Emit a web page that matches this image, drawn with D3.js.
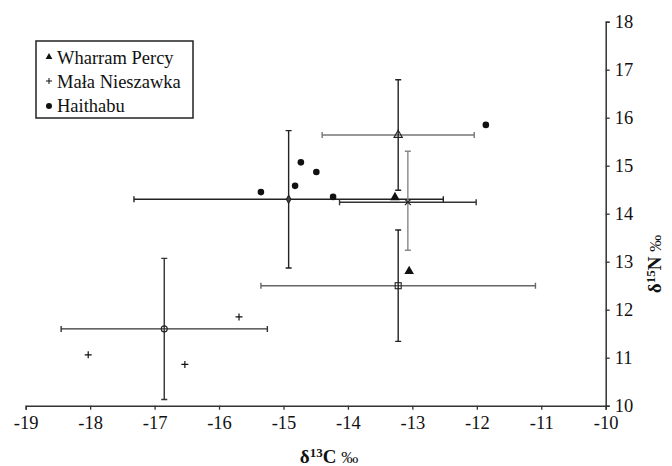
<!DOCTYPE html>
<html>
<head>
<meta charset="utf-8">
<script src="https://cdn.jsdelivr.net/npm/d3@7"></script>
<style>
	body { margin: 0; background: #fff; }
	svg { display: block; }
	svg text { font-family: "Liberation Serif", "Times New Roman", "DejaVu Serif", serif; }
</style>
</head>
<body>
<svg id="main-plot"></svg>
<script>
// sample values
var whX = [-13.27, -13.05],
	whY = [14.34, 12.80],
	mnX = [-18.03, -16.53, -15.69],
	mnY = [11.06, 10.86, 11.85],
	hbX = [-15.35, -14.82, -14.73, -14.49, -14.23, -11.86],
	hbY = [14.45, 14.58, 15.07, 14.87, 14.35, 15.85];

// group means with +/- 1 sd
var meanNames = ['Haithabu', 'Wharram Percy', 'Mała Nieszawka', 'group 4', 'group 5'],
	meanX = [-14.92, -13.22, -16.85, -13.22, -13.07],
	meanY = [14.30, 15.64, 11.60, 12.50, 14.27],
	sdX = [2.40, 1.18, 1.60, 2.13, 1.06],
	sdY = [1.43, 1.15, 1.47, 1.16, 1.03];

var legendNames = ['Wharram Percy', 'Mała Nieszawka', 'Haithabu'];
var xTicks = [-19, -18, -17, -16, -15, -14, -13, -12, -11, -10],
	yTicks = [10, 11, 12, 13, 14, 15, 16, 17, 18];

window.onload = function init() {
	'use strict';

	var width = 672,
		height = 466,
		serif = 'Liberation Serif, Times New Roman, DejaVu Serif, serif',
		svg = d3.select('svg#main-plot').attr('width', width).attr('height', height);

	var x = d3.scaleLinear().domain([-19, -10]).range([25.7, 605.7]),
		y = d3.scaleLinear().domain([10, 18]).range([405.7, 21.7]);

	var tri = d3.symbol().type(d3.symbolTriangle);

	// axes, plain hyphen minus like the original
	var fmt = function(d) { return String(d); };
	var xAxis = svg.append('g').attr('transform', 'translate(0,' + y(10) + ')')
		.call(d3.axisBottom(x).tickValues(xTicks).tickFormat(fmt).tickSizeOuter(0).tickSize(4).tickPadding(5));
	var yAxis = svg.append('g').attr('transform', 'translate(' + x(-10) + ',0)')
		.call(d3.axisRight(y).tickValues(yTicks).tickFormat(fmt).tickSizeOuter(0).tickSize(4).tickPadding(5));
	[xAxis, yAxis].forEach(function(a) {
		a.attr('font-family', serif).attr('font-size', 18.5);
		a.select('.domain').attr('stroke', '#333').attr('stroke-width', 1.5);
		a.selectAll('.tick line').attr('stroke', '#333').attr('stroke-width', 1.3);
		a.selectAll('.tick text').attr('fill', '#111');
	});
	xAxis.selectAll('.tick text').attr('dy', '0.75em');

	// axis titles
	var xt = svg.append('text').attr('x', 329).attr('y', 463).attr('text-anchor', 'middle')
		.attr('font-family', serif).attr('font-size', 19).attr('font-weight', 'bold').attr('fill', '#111');
	xt.append('tspan').text('δ');
	xt.append('tspan').attr('font-size', 13).attr('dy', -6).text('13');
	xt.append('tspan').attr('dy', 6).text('C ');
	xt.append('tspan').attr('font-weight', 'normal').attr('font-size', 17).text('‰');

	var yt = svg.append('text').attr('transform', 'translate(661,264) rotate(-90)').attr('text-anchor', 'middle')
		.attr('font-family', serif).attr('font-size', 19).attr('font-weight', 'bold').attr('fill', '#111');
	yt.append('tspan').text('δ');
	yt.append('tspan').attr('font-size', 13).attr('dy', -6).text('15');
	yt.append('tspan').attr('dy', 6).text('N ');
	yt.append('tspan').attr('font-weight', 'normal').attr('font-size', 17).text('‰');

	// error bars
	var hColors = ['#222', '#777', '#333', '#666', '#333'],
		vColors = ['#222', '#222', '#333', '#222', '#888'],
		yNudge = [0, 0, 0, 0, 1.5],
		cap = 3;
	var bars = svg.append('g').attr('fill', 'none').attr('stroke-width', 1.4);
	meanX.forEach(function(mx, i) {
		var my = y(meanY[i]) + yNudge[i],
			x0 = x(mx - sdX[i]), x1 = x(mx + sdX[i]),
			y0 = y(meanY[i] - sdY[i]), y1 = y(meanY[i] + sdY[i]),
			g = bars.append('g');
		g.append('path').attr('stroke', hColors[i])
			.attr('d', 'M' + x0 + ',' + my + 'H' + x1 +
				'M' + x0 + ',' + (my - cap) + 'V' + (my + cap) +
				'M' + x1 + ',' + (my - cap) + 'V' + (my + cap));
		g.append('path').attr('stroke', vColors[i])
			.attr('d', 'M' + x(mx) + ',' + y0 + 'V' + y1 +
				'M' + (x(mx) - cap) + ',' + y0 + 'H' + (x(mx) + cap) +
				'M' + (x(mx) - cap) + ',' + y1 + 'H' + (x(mx) + cap));
	});

	// mean markers
	var means = svg.append('g').attr('stroke', '#222').attr('stroke-width', 1.1);
	means.append('path').attr('d', d3.symbol().type(d3.symbolDiamond).size(18)())
		.attr('transform', 'translate(' + x(meanX[0]) + ',' + y(meanY[0]) + ')').attr('fill', '#444');
	means.append('path').attr('d', tri.size(30)())
		.attr('transform', 'translate(' + x(meanX[1]) + ',' + y(meanY[1]) + ')').attr('fill', 'none');
	means.append('circle').attr('cx', x(meanX[2])).attr('cy', y(meanY[2])).attr('r', 3).attr('fill', 'none');
	means.append('rect').attr('x', x(meanX[3]) - 3).attr('y', y(meanY[3]) - 3).attr('width', 6).attr('height', 6).attr('fill', 'none');
	means.append('path').attr('d', d3.symbol().type(d3.symbolX).size(25)())
		.attr('transform', 'translate(' + x(meanX[4]) + ',' + (y(meanY[4]) + yNudge[4]) + ')').attr('fill', 'none');

	// individual samples
	var pts = svg.append('g');
	pts.selectAll('circle.hb').data(hbX).enter().append('circle').attr('class', 'hb')
		.attr('cx', function(d) { return x(d); })
		.attr('cy', function(d, i) { return y(hbY[i]); })
		.attr('r', 3.3).attr('fill', '#111');
	pts.selectAll('path.wh').data(whX).enter().append('path').attr('class', 'wh')
		.attr('d', tri.size(40)())
		.attr('transform', function(d, i) { return 'translate(' + x(d) + ',' + y(whY[i]) + ')'; })
		.attr('fill', '#111');
	pts.selectAll('path.mn').data(mnX).enter().append('path').attr('class', 'mn')
		.attr('d', 'M-3.5,0H3.5M0,-3.5V3.5')
		.attr('transform', function(d, i) { return 'translate(' + x(d) + ',' + y(mnY[i]) + ')'; })
		.attr('stroke', '#111').attr('stroke-width', 1.2);

	// legend
	var legend = svg.append('g').attr('transform', 'translate(36,41)');
	legend.append('rect').attr('width', 157).attr('height', 77)
		.attr('fill', '#fff').attr('stroke', '#222').attr('stroke-width', 1.5);
	var rows = legend.selectAll('g.row').data(legendNames).enter().append('g').attr('class', 'row')
		.attr('transform', function(d, i) { return 'translate(0,' + (16 + i * 24) + ')'; });
	rows.append('text').attr('x', 21).attr('y', 6.5).attr('font-family', serif).attr('font-size', 18.5).attr('fill', '#111')
		.text(function(d) { return d; });
	rows.each(function(d, i) {
		var r = d3.select(this);
		if (i === 0) r.append('path').attr('d', tri.size(20)()).attr('transform', 'translate(13,0)').attr('fill', '#111');
		if (i === 1) r.append('path').attr('d', 'M10,0H16M13,-3V3').attr('stroke', '#111').attr('stroke-width', 1);
		if (i === 2) r.append('circle').attr('cx', 13).attr('cy', 1).attr('r', 3).attr('fill', '#111');
	});
};
</script>
</body>
</html>
